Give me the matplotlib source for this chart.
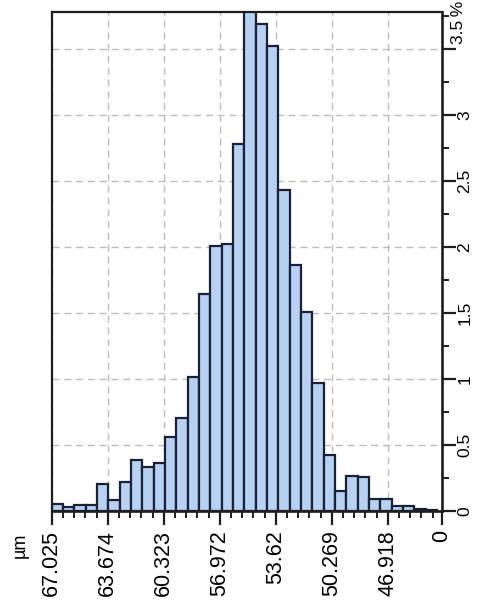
import numpy as np
import matplotlib
matplotlib.use('Agg')
import matplotlib.pyplot as plt
from matplotlib.ticker import MultipleLocator, FixedLocator

plt.rcParams['font.family'] = ['Liberation Sans', 'DejaVu Sans']

# histogram data (bins run from large to small diameter)
bin_start = 67.025
bin_width = 0.678
percent = [0.05, 0.03, 0.045, 0.045, 0.20, 0.085, 0.22, 0.384, 0.333, 0.36,
           0.556, 0.70, 1.01, 1.64, 2.005, 2.025, 2.78, 3.80, 3.69, 3.52,
           2.43, 1.86, 1.51, 0.965, 0.42, 0.15, 0.265, 0.253, 0.086, 0.086,
           0.035, 0.035, 0.012, 0.006]
tick_values = [67.025, 63.674, 60.323, 56.972, 53.62, 50.269, 46.918, 43.70]
tick_labels = ['67.025', '63.674', '60.323', '56.972', '53.62', '50.269', '46.918', '0']
tick_step = 3.351
y_ticks = [0, 0.5, 1, 1.5, 2, 2.5, 3, 3.5]
y_labels = ['0', '0.5', '1', '1.5', '2', '2.5', '3', '']

centers = bin_start - (np.arange(len(percent)) + 0.5) * bin_width

fig = plt.figure(figsize=(4.8, 6.03), dpi=100)
ax = fig.add_axes([0.108, 0.153, 0.812, 0.827])

ax.bar(centers, percent, width=bin_width, color='#b7d1f2', edgecolor='#1a2036',
       linewidth=1.6, zorder=2)

ax.set_xlim(67.025, 43.70)
ax.set_ylim(0, 3.78)

ax.set_xticks(tick_values)
ax.set_xticklabels(tick_labels, rotation=90, fontsize=15.5)
ax.xaxis.set_minor_locator(FixedLocator(bin_start - np.arange(36) * tick_step / 5))
ax.set_yticks(y_ticks)
ax.set_yticklabels(y_labels, rotation=90, fontsize=12.5, va='center')
ax.yaxis.set_minor_locator(MultipleLocator(0.25))
ax.yaxis.tick_right()

ax.tick_params(axis='both', which='major', length=10, width=1.6, color='#1e1e1e')
ax.tick_params(axis='both', which='minor', length=5, width=1.4, color='#1e1e1e')
ax.tick_params(axis='x', pad=4)
ax.tick_params(axis='y', pad=1.5)

for s in ax.spines.values():
    s.set_color('#1e1e1e')
    s.set_linewidth(1.6)
ax.spines['right'].set_linewidth(1.9)
ax.spines['bottom'].set_linewidth(1.9)

ax.grid(True, which='major', color='#bdbdbd', linestyle=(0, (5, 3.5)), linewidth=1.0, zorder=0)
ax.set_axisbelow(True)

ax.text(1.043, 3.70, '3.5\u2009%', transform=ax.get_yaxis_transform(), rotation=90,
        ha='center', va='center', fontsize=12.5)
fig.text(20 / 480, 1 - 545 / 603, 'µm', rotation=90, ha='center', va='center', fontsize=13)

plt.savefig('out.png', dpi=100)
